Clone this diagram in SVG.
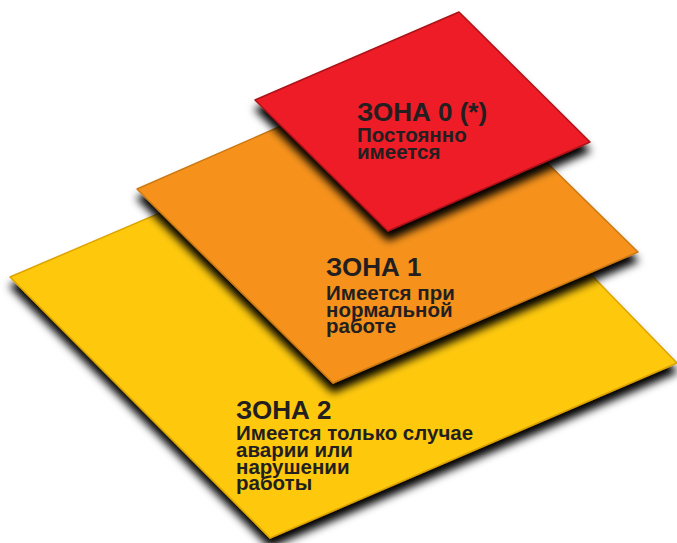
<svg xmlns="http://www.w3.org/2000/svg" width="677" height="543" viewBox="0 0 677 543">
<style>
  .t { font-family: "Liberation Sans", Arial, sans-serif; font-weight: bold; fill: #231f20; }
  .h { font-size: 26px; }
  .b { font-size: 20.5px; }
</style>
<defs>
  <filter id="sh" x="-10%" y="-10%" width="120%" height="130%">
    <feGaussianBlur in="SourceAlpha" stdDeviation="4" result="b"/>
    <feOffset in="b" dx="0" dy="9" result="o"/>
    <feComponentTransfer in="o" result="s"><feFuncA type="linear" slope="1"/></feComponentTransfer>
    <feMerge><feMergeNode in="s"/><feMergeNode in="SourceGraphic"/></feMerge>
  </filter>
</defs>
<rect width="677" height="543" fill="#ffffff"/>
<g id="zone2">
  <polygon points="10,277 422,101 677,363 270,538" fill="#fec90a" stroke="#dca400" stroke-width="1.5" stroke-linejoin="round" filter="url(#sh)"/>
  <text class="t h" x="236" y="419">ЗОНА 2</text>
  <text class="t b" x="236" y="440">Имеется только случае</text>
  <text class="t b" x="236" y="457">аварии или</text>
  <text class="t b" x="236" y="474">нарушении</text>
  <text class="t b" x="236" y="490">работы</text>
</g>
<g id="zone1">
  <polygon points="137,189 439,57 638,252 333,383" fill="#f6921e" stroke="#cc7a12" stroke-width="1.5" stroke-linejoin="round" filter="url(#sh)"/>
  <text class="t h" x="326" y="276">ЗОНА 1</text>
  <text class="t b" x="326" y="300">Имеется при</text>
  <text class="t b" x="326" y="317">нормальной</text>
  <text class="t b" x="326" y="333">работе</text>
</g>
<g id="zone0">
  <polygon points="255,100 459,12 590,142 388,231" fill="#ed1c27" stroke="#ac1218" stroke-width="1.5" stroke-linejoin="round" filter="url(#sh)"/>
  <text class="t h" x="357" y="121">ЗОНА 0 (*)</text>
  <text class="t b" x="357" y="142">Постоянно</text>
  <text class="t b" x="357" y="159">имеется</text>
</g>
</svg>
